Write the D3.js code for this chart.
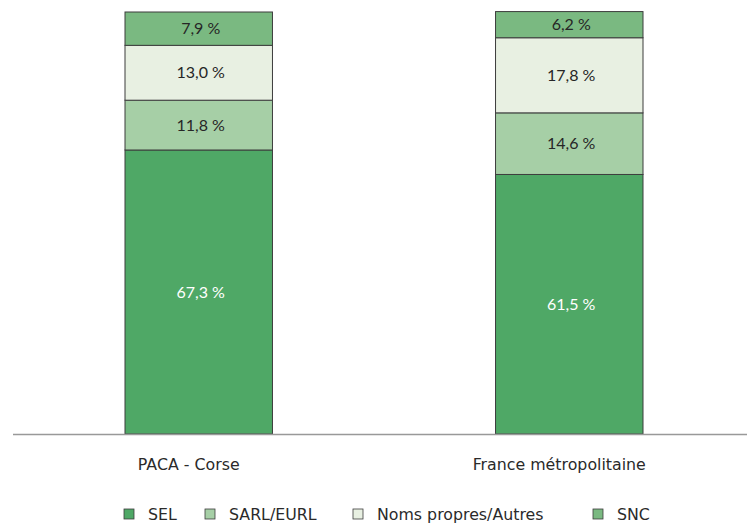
<!DOCTYPE html>
<html>
<head>
<meta charset="utf-8">
<script src="https://cdn.jsdelivr.net/npm/d3@7"></script>
<style>
  body { margin: 0; background: #fff; }
  text { font-family: Lato, "Noto Sans", sans-serif; font-size: 16px; fill: #262626; }
  .cat, .legend text { font-family: "DejaVu Sans", sans-serif; font-size: 15.8px; fill: #2a2a2a; }
</style>
</head>
<body>
<div class="chart"></div>
<script>
var regions = ["PACA - Corse", "France métropolitaine"],
    metrics = ["SEL", "SARL/EURL", "Noms propres/Autres", "SNC"],
    sel = [67.3, 61.5],
    sarl = [11.8, 14.6],
    noms = [13.0, 17.8],
    snc = [7.9, 6.2],
    colors = ["#4fa866", "#a6cfa6", "#e8f0e2", "#7ab981"];

var outerWidth = 747,
    outerHeight = 523,
    baseY = 434,
    topY = 12;

var data = regions.map(function(r, i) {
    return {"region": r, "SEL": sel[i], "SARL/EURL": sarl[i], "Noms propres/Autres": noms[i], "SNC": snc[i]};
});

var xScale = d3.scaleBand().domain(regions).range([125, 643]).paddingInner(0.602).paddingOuter(0),
    yScale = d3.scaleLinear().domain([0, 100]).range([baseY, topY]),
    color = d3.scaleOrdinal().domain(metrics).range(colors);

var stack = d3.stack().keys(metrics);
var layers = stack(data);

var svg = d3.select(".chart").append("svg")
    .attr("width", outerWidth)
    .attr("height", outerHeight);

var layer = svg.selectAll(".layer")
    .data(layers)
    .enter().append("g")
    .attr("class", "layer")
    .style("fill", function(d) { return color(d.key); });

layer.selectAll("rect")
    .data(function(d) { return d; })
  .enter().append("rect")
    .attr("x", function(d) { return xScale(d.data.region); })
    .attr("y", function(d) { return yScale(d[1]); })
    .attr("height", function(d) { return yScale(d[0]) - yScale(d[1]); })
    .attr("width", xScale.bandwidth())
    .attr("stroke", "#3d3d3d")
    .attr("stroke-width", 1);

var f = function(v) { return d3.format(".1f")(v).replace(".", ",") + " %"; };

layer.selectAll("text")
    .data(function(d) { return d.map(function(p) { p.key = d.key; return p; }); })
  .enter().append("text")
    .attr("x", function(d) { return xScale(d.data.region) + xScale.bandwidth() / 2 + 2; })
    .attr("y", function(d) { return (yScale(d[0]) + yScale(d[1])) / 2; })
    .attr("dy", "0.35em")
    .attr("text-anchor", "middle")
    .style("fill", function(d) { return d.key == "SEL" ? "#ffffff" : "#262626"; })
    .text(function(d) { return f(d[1] - d[0]); });

// baseline
svg.append("line")
    .attr("x1", 13).attr("x2", outerWidth)
    .attr("y1", baseY + 0.5).attr("y2", baseY + 0.5)
    .attr("stroke", "#999")
    .attr("stroke-width", 1.5);

svg.selectAll(".cat")
    .data(regions)
  .enter().append("text")
    .attr("class", "cat")
    .attr("x", function(d) { return xScale(d) + xScale.bandwidth() / 2 - 10; })
    .attr("y", 470)
    .attr("text-anchor", "middle")
    .text(function(d) { return d; });

// legend
var legendX = [124, 205, 353, 593];
var legend = svg.selectAll(".legend")
    .data(metrics)
  .enter().append("g")
    .attr("class", "legend")
    .attr("transform", function(d, i) { return "translate(" + legendX[i] + ",509)"; });

legend.append("rect")
    .attr("width", 10).attr("height", 10)
    .attr("fill", function(d) { return color(d); })
    .attr("stroke", "#3d3d3d")
    .attr("stroke-width", 0.8);

legend.append("text")
    .attr("x", 24)
    .attr("y", 5)
    .attr("dy", "0.35em")
    .text(function(d) { return d; });
</script>
</body>
</html>
